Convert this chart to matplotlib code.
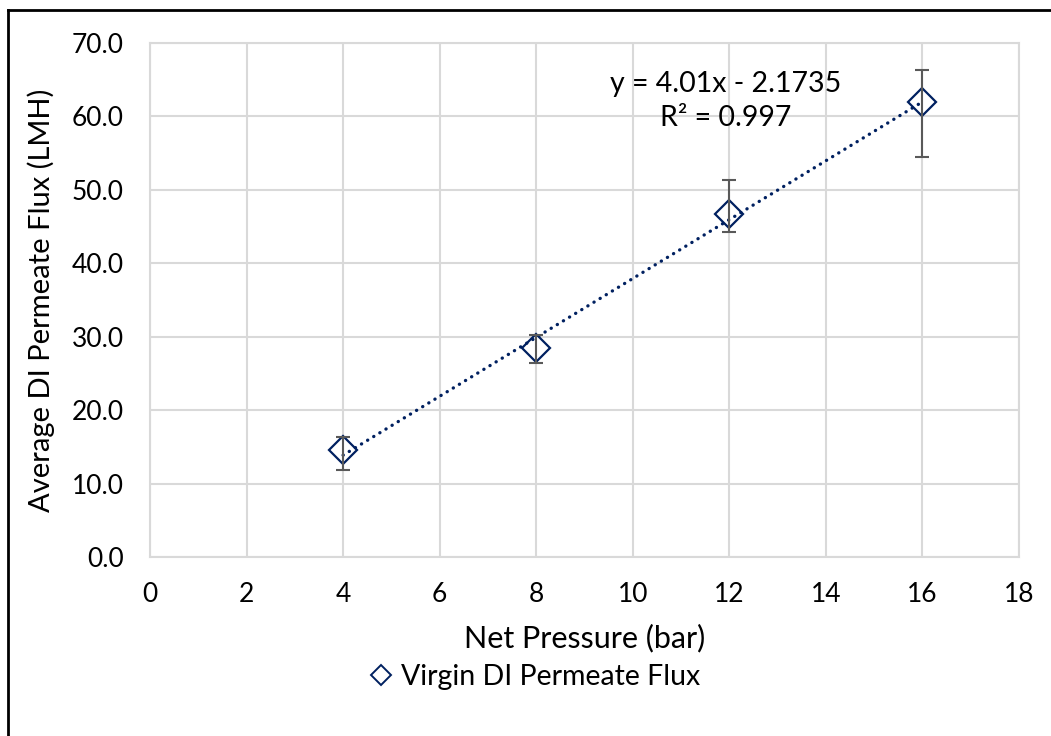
import matplotlib.pyplot as plt
from matplotlib.lines import Line2D

plt.rcParams['font.family'] = ['Lato', 'DejaVu Sans']
plt.rcParams['font.size'] = 19

# data
pressure = [4, 8, 12, 16]
flux = [14.6, 28.4, 46.7, 61.9]
err_low = [2.7, 2.0, 2.5, 7.4]
err_high = [1.8, 1.8, 4.7, 4.4]
slope, intercept = 4.01, -2.1735
r2 = 0.997

xticks = list(range(0, 19, 2))
yticks = [0, 10, 20, 30, 40, 50, 60, 70]

navy = '#002060'
grid_c = '#d9d9d9'

fig = plt.figure(figsize=(10.51, 7.36), dpi=100)
ax = fig.add_axes([150/1051, 1-557/736, 869/1051, 514/736])

# gridlines
ax.set_axisbelow(True)
ax.grid(True, color=grid_c, linewidth=1.5)
for s in ax.spines.values():
    s.set_color(grid_c)
    s.set_linewidth(1.5)

ax.plot(pressure, flux, linestyle='none', marker='D', markersize=14,
        markerfacecolor='white', markeredgecolor=navy, markeredgewidth=1.6,
        zorder=3)

# linear trendline
fit_x = [pressure[0], pressure[-1]]
fit_y = [slope*x + intercept for x in fit_x]
ax.plot(fit_x, fit_y, color=navy, linewidth=2.4,
        linestyle=(0, (0.05, 2.1)), dash_capstyle='round', zorder=4)

ax.errorbar(pressure, flux, yerr=[err_low, err_high], fmt='none',
            ecolor='#595959', elinewidth=1.5, capsize=5, capthick=1.5,
            zorder=5)

ax.text(11.93, 62.1, 'y = 4.01x - 2.1735\nR² = %.3f' % r2, ha='center',
        va='center', fontsize=20.5, linespacing=1.4, zorder=6)

ax.set_xlim(0, 18)
ax.set_ylim(0, 70)
ax.set_xticks(xticks)
ax.set_yticks(yticks)
ax.set_yticklabels(['%.1f' % v for v in yticks])
ax.tick_params(axis='both', length=0, labelsize=19)
ax.tick_params(axis='x', pad=18)
ax.tick_params(axis='y', pad=19)

ax.set_xlabel('Net Pressure (bar)', fontsize=22, labelpad=12)
ax.set_ylabel('Average DI Permeate Flux (LMH)', fontsize=21, labelpad=12)

handle = Line2D([], [], linestyle='none', marker='D', markersize=10,
                markerfacecolor='white', markeredgecolor=navy,
                markeredgewidth=1.4)
fig.legend([handle], ['Virgin DI Permeate Flux'], loc='center',
           bbox_to_anchor=(535/1051, 1-677/736), frameon=False,
           fontsize=20.5, handlelength=0.8, handletextpad=0.3)

# outer chart border (left and top visible)
fig.add_artist(Line2D([8/1051, 8/1051], [0, 1-10/736], color='black',
                      linewidth=2, transform=fig.transFigure))
fig.add_artist(Line2D([8/1051, 1], [1-10/736, 1-10/736], color='black',
                      linewidth=2, transform=fig.transFigure))

fig.savefig('out.png', dpi=100)
